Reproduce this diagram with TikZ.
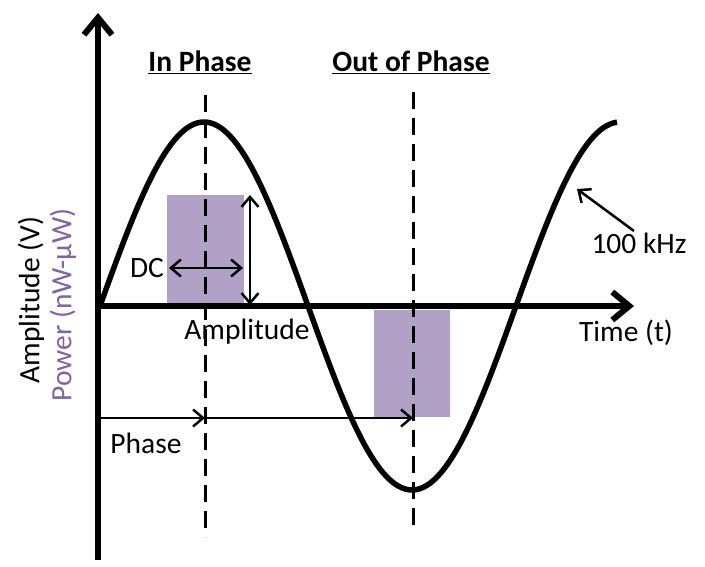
\documentclass[tikz,border=0pt]{standalone}
\usepackage{fontspec}
\setmainfont{Carlito}
\usetikzlibrary{arrows.meta}
\definecolor{pfill}{HTML}{B2A1C7}
\definecolor{ptext}{HTML}{8064A2}
\begin{document}
\begin{tikzpicture}[x=1pt,y=-1pt,
  lbl/.style={font=\fontsize{29.5}{34}\selectfont, inner sep=0pt},
  blbl/.style={font=\fontsize{29.5}{34}\selectfont\bfseries, inner sep=0pt},
  axisline/.style={line width=6pt, -{Straight Barb[length=17pt,width=28pt]}},
  thinarrow/.style={line width=2.5pt, -{Straight Barb[length=10pt,width=17pt]}},
  dblarrow/.style={line width=2.5pt, {Straight Barb[length=10pt,width=17pt]}-{Straight Barb[length=10pt,width=17pt]}},
  guide/.style={line width=3pt, dash pattern=on 17pt off 9pt},
  powerbox/.style={fill=pfill, draw=none},
  wave/.style={line width=5.5pt}
]
\useasboundingbox (0,0) rectangle (705,567);

% power boxes
\fill[powerbox] (167,195) rectangle (244,305);
\fill[powerbox] (374,310) rectangle (450,417);

% coordinates
\coordinate (O) at (98,306);
\coordinate (ybot) at (98,560);
\coordinate (ytop) at (98,13);
\coordinate (xend) at (634,306);
\coordinate (d1top) at (205,95);
\coordinate (d1bot) at (205,537);
\coordinate (d2top) at (413,92);
\coordinate (d2bot) at (413,533);
\coordinate (amptop) at (250,195);
\coordinate (ampbot) at (250,305);
\coordinate (dcl) at (169,268);
\coordinate (dcr) at (243,268);
\coordinate (ph0) at (98,418);
\coordinate (ph1) at (205,418);
\coordinate (ph2) at (413,418);
\coordinate (fqs) at (634,231);
\coordinate (fqe) at (577,189);

% dashed guides
\draw[guide] (d1top) -- (d1bot);
\draw[guide] (d2top) -- (d2bot);

% thin arrows
\draw[dblarrow] (amptop) -- (ampbot);
\draw[dblarrow] (dcl) -- (dcr);
\draw[thinarrow] (ph0) -- (ph1);
\draw[thinarrow] (ph1) -- (ph2);
\draw[thinarrow] (fqs) -- (fqe);

% sine wave
\draw[wave] plot[domain=100:617, samples=150, smooth] (\x, {306-184*sin((\x-100)/416*360)});

% axes
\draw[axisline] (ybot) -- (ytop);
\draw[axisline] (O) -- (xend);

% labels
\node[blbl] (inphase) at (200,62) {\underline{In Phase}};
\node[blbl] (outphase) at (411,62) {\underline{Out of Phase}};
\node[lbl] (dc) at (147,268) {DC};
\node[lbl] (amp) at (247,332) {Amplitude};
\node[lbl] (phase) at (146,443) {Phase};
\node[lbl] (time) at (626,333) {Time (t)};
\node[lbl] (freq) at (639,243) {100 kHz};
\node[lbl, rotate=90] (ylab1) at (31,300) {Amplitude (V)};
\node[lbl, rotate=90, text=ptext] (ylab2) at (63,305) {Power (nW-µW)};
\end{tikzpicture}
\end{document}
